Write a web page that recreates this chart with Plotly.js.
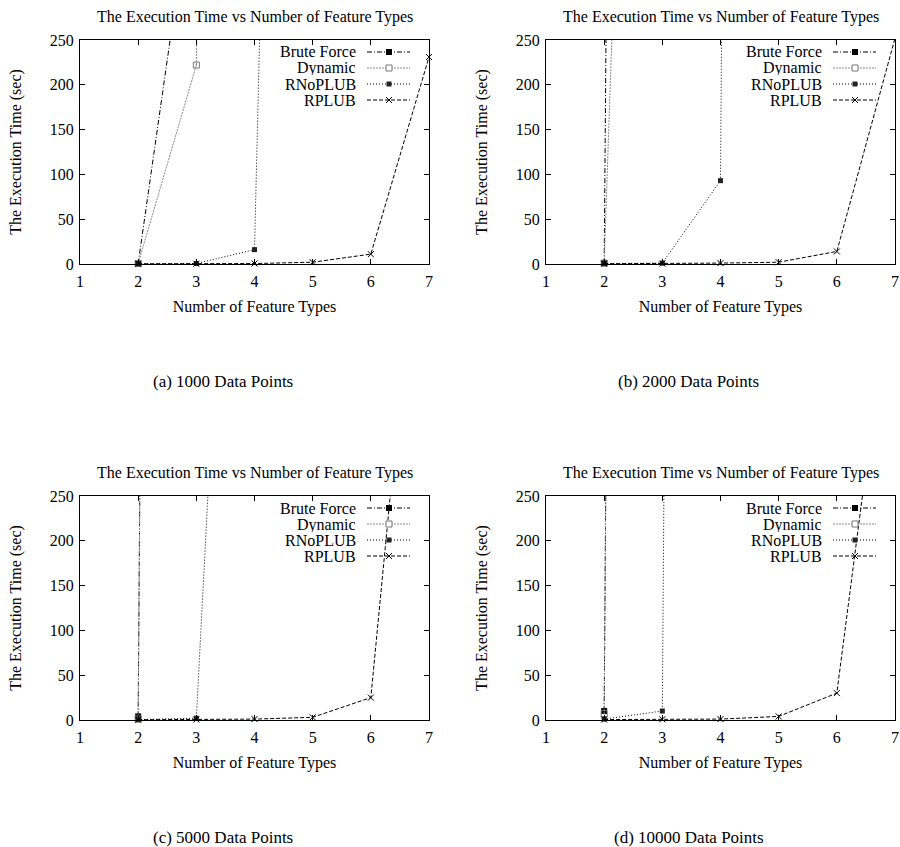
<!DOCTYPE html>
<html>
<head>
<meta charset="utf-8">
<script src="https://cdn.plot.ly/plotly-3.0.1.min.js"></script>
<style>html,body{margin:0;padding:0;background:#fff;}#chart{width:900px;height:847px;}</style>
</head>
<body>
<div id="chart"></div>
<script>
// ---------- DATA ----------
const seriesNames = ["Brute Force", "Dynamic", "RNoPLUB", "RPLUB"];
const panelTitles = ["The Execution Time vs Number of Feature Types",
                     "The Execution Time vs Number of Feature Types",
                     "The Execution Time vs Number of Feature Types",
                     "The Execution Time vs Number of Feature Types"];
const captions = ["(a) 1000 Data Points", "(b) 2000 Data Points",
                  "(c) 5000 Data Points", "(d) 10000 Data Points"];
const xTitle = "Number of Feature Types";
const yTitle = "The Execution Time (sec)";
const xTickVals = [1, 2, 3, 4, 5, 6, 7];
const yTickVals = [0, 50, 100, 150, 200, 250];

// (a) 1000 data points
const a_bf_x = [2, 3],             a_bf_y = [0.5, 455];
const a_dyn_x = [2, 3, 4],         a_dyn_y = [0.5, 222, 5000];
const a_rno_x = [2, 3, 4, 5],      a_rno_y = [0.3, 0.5, 16, 2700];
const a_rp_x = [2, 3, 4, 5, 6, 7], a_rp_y = [0.2, 0.3, 0.5, 2, 11, 231];
// (b) 2000 data points
const b_bf_x = [2, 3],             b_bf_y = [1, 8000];
const b_dyn_x = [2, 3],            b_dyn_y = [1, 1900];
const b_rno_x = [2, 3, 4, 5],      b_rno_y = [0.5, 1, 93, 9000];
const b_rp_x = [2, 3, 4, 5, 6, 7], b_rp_y = [0.3, 0.5, 1, 2, 14, 252];
// (c) 5000 data points
const c_bf_x = [2, 3],             c_bf_y = [4, 9000];
const c_dyn_x = [2, 3],            c_dyn_y = [1, 9000];
const c_rno_x = [2, 3, 4],         c_rno_y = [0.5, 2, 1250];
const c_rp_x = [2, 3, 4, 5, 6, 7], c_rp_y = [0.3, 0.5, 1, 3, 25, 700];
// (d) 10000 data points
const d_bf_x = [2, 3],             d_bf_y = [10, 9000];
const d_dyn_x = [2, 3],            d_dyn_y = [7, 9000];
const d_rno_x = [2, 3, 4],         d_rno_y = [1, 10, 9000];
const d_rp_x = [2, 3, 4, 5, 6, 7], d_rp_y = [0.5, 0.8, 1, 4, 30, 530];

const panels = [
  [[a_bf_x, a_bf_y], [a_dyn_x, a_dyn_y], [a_rno_x, a_rno_y], [a_rp_x, a_rp_y]],
  [[b_bf_x, b_bf_y], [b_dyn_x, b_dyn_y], [b_rno_x, b_rno_y], [b_rp_x, b_rp_y]],
  [[c_bf_x, c_bf_y], [c_dyn_x, c_dyn_y], [c_rno_x, c_rno_y], [c_rp_x, c_rp_y]],
  [[d_bf_x, d_bf_y], [d_dyn_x, d_dyn_y], [d_rno_x, d_rno_y], [d_rp_x, d_rp_y]]
];

// ---------- STYLE ----------
const W = 900, H = 847;
const FONT = "Liberation Serif, Times New Roman, serif";
const styles = [
  {line: {color: "#000", width: 1, dash: "5px,2px,1px,2px"}, marker: {symbol: "square", size: 6, color: "#000"}},
  {line: {color: "#8a8a8a", width: 1, dash: "2px,1px"}, marker: {symbol: "square-open-dot", size: 6, color: "#777", line: {width: 1, color: "#777"}}},
  {line: {color: "#000", width: 1, dash: "1px,2px"}, marker: {symbol: "square", size: 5, color: "#222"}},
  {line: {color: "#000", width: 1, dash: "4px,2px"}, marker: {symbol: "x-thin-open", size: 6, color: "#000", line: {width: 1, color: "#000"}}}
];
// plot-area pixel boxes [left, right, top, bottom]
const boxes = [[80, 429, 40, 264], [546, 895, 40, 264], [80, 429, 496, 720], [546, 895, 496, 720]];
const px = v => v / W;
const py = v => 1 - v / H;

const traces = [];
const layout = {
  width: W, height: H,
  margin: {l: 0, r: 0, t: 0, b: 0},
  paper_bgcolor: "#fff", plot_bgcolor: "#fff",
  showlegend: false,
  font: {family: FONT, size: 16, color: "#000"},
  annotations: [], shapes: []
};

panels.forEach((panel, i) => {
  const n = i + 1;
  const xa = n === 1 ? "x" : "x" + n;
  const ya = n === 1 ? "y" : "y" + n;
  panel.forEach((s, k) => {
    traces.push({
      type: "scatter", mode: "lines+markers",
      x: s[0], y: s[1], name: seriesNames[k],
      xaxis: xa, yaxis: ya,
      line: styles[k].line, marker: styles[k].marker,
      cliponaxis: false, hoverinfo: "skip"
    });
  });
  const [L, R, T, B] = boxes[i];
  const axCommon = {
    showline: true, mirror: "ticks", linecolor: "#000", linewidth: 1,
    ticks: "inside", ticklen: 5, tickcolor: "#000", tickwidth: 1,
    showgrid: false, zeroline: false, fixedrange: true,
    tickfont: {family: FONT, size: 16, color: "#000"}
  };
  layout["xaxis" + (n === 1 ? "" : n)] = Object.assign({}, axCommon, {
    domain: [px(L), px(R)], anchor: ya, range: [1, 7],
    tickmode: "array", tickvals: xTickVals, ticklabelstandoff: 3,
    title: {text: xTitle, font: {family: FONT, size: 16}, standoff: 11}
  });
  layout["yaxis" + (n === 1 ? "" : n)] = Object.assign({}, axCommon, {
    domain: [py(B), py(T)], anchor: xa, range: [0, 250],
    tickmode: "array", tickvals: yTickVals, ticklabelstandoff: 2,
    title: {text: yTitle, font: {family: FONT, size: 16}, standoff: 24}
  });
  // panel title
  layout.annotations.push({
    xref: "paper", yref: "paper", x: px((L + R) / 2), y: py(T - 23),
    text: panelTitles[i], showarrow: false, xanchor: "center", yanchor: "middle",
    font: {family: FONT, size: 16}
  });
  // caption
  layout.annotations.push({
    xref: "paper", yref: "paper", x: px((L + R) / 2 - 32), y: py(B + 117),
    text: captions[i], showarrow: false, xanchor: "center", yanchor: "middle",
    font: {family: FONT, size: 17}
  });
  // gnuplot-style key: text right-aligned, sample to its right
  seriesNames.forEach((name, k) => {
    const yy = T + 12 + k * 16;
    layout.annotations.push({
      xref: "paper", yref: "paper", x: px(R - 71), y: py(yy),
      text: name, showarrow: false, xanchor: "right", yanchor: "middle",
      height: 15, valign: "middle",
      font: {family: FONT, size: 16}
    });
    layout.shapes.push({
      type: "line", xref: "paper", yref: "paper",
      x0: px(R - 62), x1: px(R - 19), y0: py(yy), y1: py(yy),
      line: {color: styles[k].line.color, width: 1, dash: styles[k].line.dash}
    });
    const mx = R - 40;
    if (k === 0) {
      layout.shapes.push({type: "rect", xref: "paper", yref: "paper",
        x0: px(mx - 3), x1: px(mx + 3), y0: py(yy + 3), y1: py(yy - 3),
        fillcolor: "#000", line: {width: 0}});
    } else if (k === 1) {
      layout.shapes.push({type: "rect", xref: "paper", yref: "paper",
        x0: px(mx - 3), x1: px(mx + 3), y0: py(yy + 3), y1: py(yy - 3),
        fillcolor: "#fff", line: {width: 1, color: "#777"}});
    } else if (k === 2) {
      layout.shapes.push({type: "rect", xref: "paper", yref: "paper",
        x0: px(mx - 2.5), x1: px(mx + 2.5), y0: py(yy + 2.5), y1: py(yy - 2.5),
        fillcolor: "#222", line: {width: 0}});
    } else {
      layout.shapes.push({type: "line", xref: "paper", yref: "paper",
        x0: px(mx - 3), x1: px(mx + 3), y0: py(yy - 3), y1: py(yy + 3),
        line: {color: "#000", width: 1}});
      layout.shapes.push({type: "line", xref: "paper", yref: "paper",
        x0: px(mx - 3), x1: px(mx + 3), y0: py(yy + 3), y1: py(yy - 3),
        line: {color: "#000", width: 1}});
    }
  });
});

Plotly.newPlot("chart", traces, layout, {staticPlot: true, displayModeBar: false});
</script>
</body>
</html>
